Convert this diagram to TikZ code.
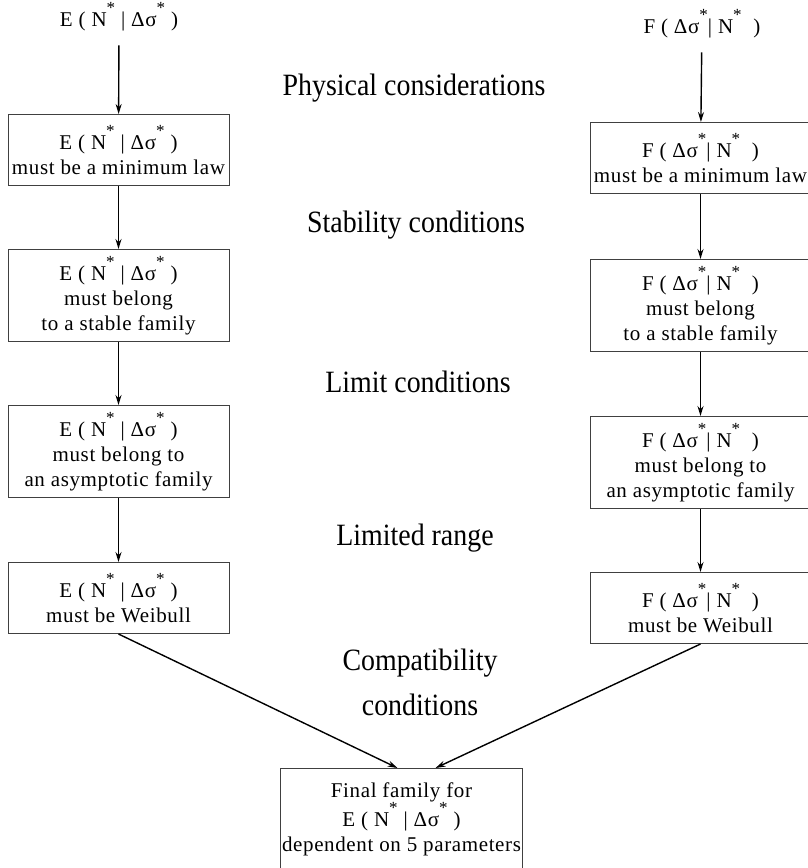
\documentclass[tikz,border=0pt]{standalone}
\usepackage{fontspec}
\setmainfont[LetterSpace=3]{Liberation Serif}
\newfontfamily\headfont[FakeStretch=0.9]{Liberation Serif}
\usetikzlibrary{arrows.meta}
\usetikzlibrary{positioning}
\usetikzlibrary{calc}

\newcommand{\st}{\raisebox{0.62em}{\fontsize{17}{17}\selectfont *}}
\newcommand{\Elaw}{E ( N\st\ | Δσ\st\ )}
\newcommand{\Flaw}{F ( Δσ\st| N\st\ \ )}

\begin{document}
\begin{tikzpicture}[->,>={Stealth[length=10pt,width=6pt]},x=1pt,y=-1pt,line width=1.5pt,
		every edge/.style={draw,line width=1.4pt}]
		\tikzstyle{every node}=[font=\fontsize{21}{25}\selectfont]
		\tikzstyle{law}=[draw=black!75,line width=1pt,minimum width=221pt,align=center,inner sep=2pt]
		\tikzstyle{twoline}=[law,minimum height=71pt]
		\tikzstyle{threeline}=[law,minimum height=92pt]
		\tikzstyle{cond}=[font=\headfont\fontsize{31}{45}\selectfont,align=center]
		
		\useasboundingbox (0,0) rectangle (807,868);
		
		% left column
		\node              (topE)   at (119,17)          {\Elaw};
		\node[twoline]     (boxE1)  [anchor=north] at (118.5,114) {\Elaw\\must be a minimum law};
		\node[threeline]   (boxE2)  [below=63pt of boxE1] {\Elaw\\must belong\\to a stable family};
		\node[threeline]   (boxE3)  [below=63pt of boxE2] {\Elaw\\must belong to\\an asymptotic family};
		\node[twoline]     (boxE4)  [below=64pt of boxE3] {\Elaw\\must be Weibull};
		
		% right column
		\node              (topF)   at (702,24)          {\Flaw};
		\node[twoline]     (boxF1)  [anchor=north] at (700.5,122) {\Flaw\\must be a minimum law};
		\node[threeline]   (boxF2)  [below=65pt of boxF1] {\Flaw\\must belong\\to a stable family};
		\node[threeline]   (boxF3)  [below=64pt of boxF2] {\Flaw\\must belong to\\an asymptotic family};
		\node[twoline]     (boxF4)  [below=63pt of boxF3] {\Flaw\\must be Weibull};
		
		% final
		\node[law,minimum width=239pt,minimum height=124pt,anchor=north]
		                   (final)  at (401.5,768) {Final family for\\\Elaw\\dependent on 5 parameters\\[2pt]};
		
		% conditions
		\node[cond] (physical)  at (414,88)  {Physical considerations};
		\node[cond] (stability) at (416,225) {Stability conditions};
		\node[cond] (limit)     at (418,382) {Limit conditions};
		\node[cond] (range)     at (415,538) {Limited range};
		\node[cond] (compat)    at (420,682) {Compatibility\\conditions};
		
		\path (topE)  edge [shorten <=10pt] (boxE1)
		(boxE1) edge (boxE2)
		(boxE2) edge (boxE3)
		(boxE3) edge (boxE4)
		(topF)  edge [shorten <=10pt] (boxF1)
		(boxF1) edge (boxF2)
		(boxF2) edge (boxF3)
		(boxF3) edge (boxF4)
		(boxE4.south) edge ($(final.north)+(-4,0)$)
		(boxF4.south) edge ($(final.north)+(34,0)$)
		;
		\end{tikzpicture}
\end{document}
